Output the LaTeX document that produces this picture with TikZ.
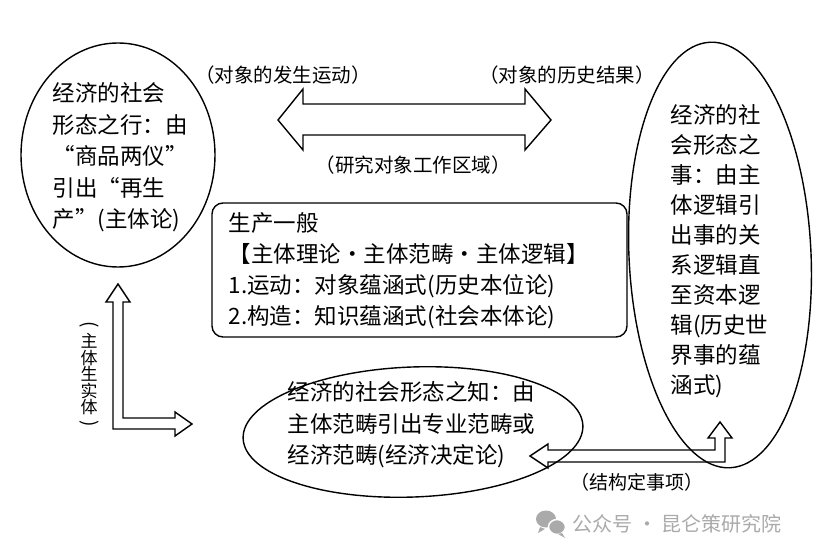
\documentclass[tikz,border=0pt]{standalone}
\usepackage{fontspec}
\usepackage{graphicx}
\setmainfont{Noto Sans CJK SC}
\usetikzlibrary{shapes.geometric}
\newcommand{\oq}{\makebox[1em][r]{“}}
\newcommand{\cq}{\makebox[1em][l]{”}}
\newcommand{\vlp}{\rotatebox[origin=c]{-90}{\fontsize{19}{19}\selectfont (}}
\newcommand{\vrp}{\rotatebox[origin=c]{-90}{\fontsize{19}{19}\selectfont )}}
\begin{document}
\begin{tikzpicture}[x=1pt,y=-1pt, line width=1.4pt,
  oval/.style={draw, ellipse, inner sep=0pt},
  body/.style={font=\fontsize{22.5}{31.5}\selectfont, align=left, anchor=north west, inner sep=0pt},
  lbl/.style={font=\fontsize{19.5}{22}\selectfont, inner sep=0pt},
  blockarrow/.style={draw, line join=miter}]
\useasboundingbox (0,0) rectangle (825,556);
\fill[white] (0,0) rectangle (825,556);

% shapes
\node[oval, minimum width=194pt, minimum height=224pt] (xing) at (118,155) {};
\node[oval, minimum width=182pt, minimum height=426pt, rotate=2.7] (shi) at (720,255) {};
\node[oval, minimum width=340pt, minimum height=130pt, rotate=2.2] (zhi) at (413,432) {};
\node[draw, rounded corners=11pt, minimum width=415pt, minimum height=134pt, inner sep=0pt] (yiban) at (419.5,270) {};

% texts
\node[body] (txing) at (52,82) {经济的社会\\形态之行：由\\\oq 商品两仪\cq\\引出\oq 再生\\产\cq (主体论)};
\node[body, font=\fontsize{22.5}{30}\selectfont] (tshi) at (670,104) {经济的社\\会形态之\\事：由主\\体逻辑引\\出事的关\\系逻辑直\\至资本逻\\辑(历史世\\界事的蕴\\涵式)};
\node[body, font=\fontsize{22.5}{31}\selectfont] (tyiban) at (228,212) {生产一般\\【主体理论·主体范畴·主体逻辑】\\1.运动：对象蕴涵式(历史本位论)\\2.构造：知识蕴涵式(社会本体论)};
\node[body] (tzhi) at (287,381) {经济的社会形态之知：由\\主体范畴引出专业范畴或\\经济范畴(经济决定论)};

% labels
\node[lbl] (l1) at (283,75) {（对象的发生运动）};
\node[lbl] (l2) at (567,75) {（对象的历史结果）};
\node[lbl] (l3) at (413,165) {（研究对象工作区域）};
\node[lbl, font=\fontsize{19}{22}\selectfont] (l4) at (637,482) {（结构定事项）};
\node[inner sep=0pt, align=center, font=\fontsize{17}{16.5}\selectfont] (l5) at (89,376) {\vlp\\主\\体\\生\\实\\体\\\vrp};

% block arrows
\draw[blockarrow] (278,120) -- (303,89) -- (303,104) -- (525,104) -- (525,89) -- (551,120)
  -- (525,150) -- (525,135) -- (303,135) -- (303,150) -- cycle;
\draw[blockarrow] (118,284) -- (130,302) -- (123,302) -- (123,418) -- (175,418) -- (175,412)
  -- (192,424) -- (175,436) -- (175,429) -- (113,429) -- (113,302) -- (106,302) -- cycle;
\draw[blockarrow] (720,422) -- (732,438) -- (725,438) -- (725,462) -- (548,462) -- (548,468)
  -- (530,456) -- (548,444) -- (548,450) -- (715,450) -- (715,438) -- (708,438) -- cycle;

% watermark
\definecolor{wm}{RGB}{170,170,170}
\fill[wm] (546,519) ellipse (10pt and 8.5pt);
\fill[wm] (540,527) -- (538,533) -- (545,529) -- cycle;
\draw[white, line width=1.5pt, fill=wm] (557,527) ellipse (8.5pt and 7.5pt);
\fill[wm] (562,533) -- (565,538) -- (558,534) -- cycle;
\node[inner sep=0pt, anchor=west, text=wm, font=\fontsize{20}{22}\selectfont] (wmk) at (572,524) {公众号 · 昆仑策研究院};
\end{tikzpicture}
\end{document}
